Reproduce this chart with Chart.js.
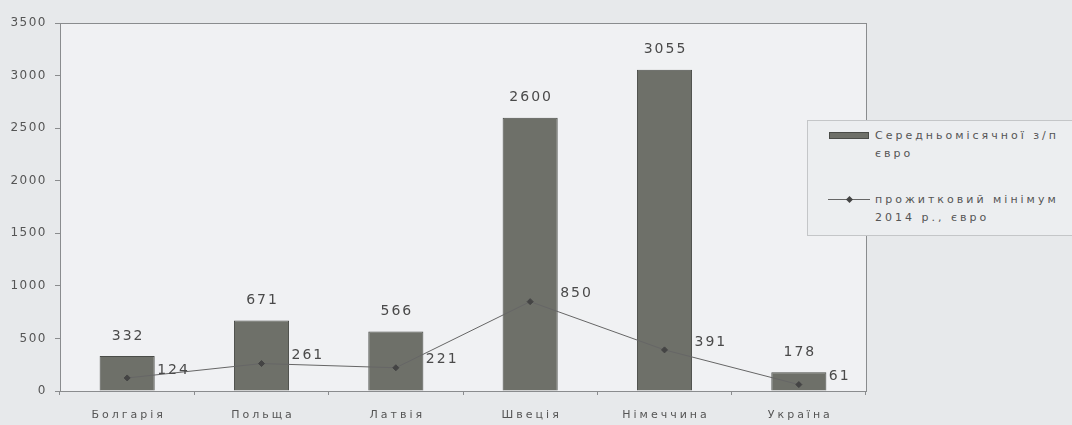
<!DOCTYPE html>
<html>
<head>
<meta charset="utf-8">
<script src="https://cdn.jsdelivr.net/npm/chart.js@4.4.0/dist/chart.umd.min.js"></script>
<style>
  body { margin: 0; background: #e7e9eb; font-family: "DejaVu Sans", sans-serif; }
  #wrap { position: relative; width: 1072px; height: 425px; }
  #legend {
    position: absolute; left: 807px; top: 120px; width: 270px; height: 114px;
    border: 1px solid #c4c6c8; background: #eceef0; color: #555; font-size: 11px; letter-spacing: 3px;
  }
  .item { position: absolute; left: 67px; line-height: 18px; white-space: nowrap; }
  .sw { position: absolute; }
</style>
</head>
<body>
<div id="wrap">
  <canvas id="myChart" width="1072" height="425"></canvas>
  <div id="legend">
    <div class="sw" style="left:21px;top:11px;width:38px;height:5px;background:#6e7069;border:1px solid #4a4c48;"></div>
    <div class="item" style="top:6px;">Середньомісячної з/п<br>євро</div>
    <div class="sw" style="left:20px;top:78px;width:42px;height:1px;background:#666;"></div>
    <div class="sw" style="left:39px;top:76px;width:5px;height:5px;background:#444;transform:rotate(45deg);"></div>
    <div class="item" style="top:70px;">прожитковий мінімум<br>2014 р., євро</div>
  </div>
</div>
<script>
// data
var countries = ['Болгарія', 'Польща', 'Латвія', 'Швеція', 'Німеччина', 'Україна'];
var avgSalary = [332, 671, 566, 2600, 3055, 178];
var minimum = [124, 261, 221, 850, 391, 61];
var yTicks = [0, 500, 1000, 1500, 2000, 2500, 3000, 3500];

var FONT = '"DejaVu Sans", sans-serif';

// plot background + border, spacing for tick text
var plotBox = {
  id: 'plotBox',
  beforeDraw: function(chart) {
    var a = chart.chartArea, ctx = chart.ctx;
    ctx.save();
    ctx.fillStyle = '#f0f1f3';
    ctx.fillRect(a.left, a.top, a.right - a.left, a.bottom - a.top);
    ctx.strokeStyle = '#8a8c8e';
    ctx.lineWidth = 1;
    ctx.strokeRect(a.left + 0.5, a.top + 0.5, a.right - a.left, a.bottom - a.top);
    ctx.restore();
    ctx.letterSpacing = '1.5px';
  }
};

// value labels + category labels
var valueLabels = {
  id: 'valueLabels',
  afterDatasetsDraw: function(chart) {
    var ctx = chart.ctx;
    ctx.save();
    ctx.font = '14px ' + FONT;
    ctx.letterSpacing = '2px';
    ctx.fillStyle = '#4a4a4a';
    ctx.textBaseline = 'middle';
    chart.getDatasetMeta(0).data.forEach(function(bar, i) {
      ctx.textAlign = 'center';
      ctx.fillText(avgSalary[i], bar.x + 1, bar.y - 20);
    });
    chart.getDatasetMeta(1).data.forEach(function(pt, i) {
      ctx.textAlign = 'left';
      ctx.fillText(minimum[i], pt.x + 30, pt.y - 8);
    });
    // x category labels
    var xs = chart.scales.x;
    ctx.font = '11px ' + FONT;
    ctx.letterSpacing = '3px';
    ctx.fillStyle = '#555';
    ctx.textAlign = 'center';
    countries.forEach(function(c, i) {
      ctx.fillText(c, xs.getPixelForTick(i) + 1.5, 415);
    });
    ctx.restore();
  }
};

var ctx = document.getElementById('myChart').getContext('2d');
window.myChart = new Chart(ctx, {
  data: {
    labels: countries,
    datasets: [{
      type: 'bar',
      label: 'Середньомісячної з/п євро',
      data: avgSalary,
      backgroundColor: '#6e7069',
      borderColor: '#4a4c48',
      borderWidth: 1,
      categoryPercentage: 0.82,
      barPercentage: 0.5,
      order: 2
    }, {
      type: 'line',
      label: 'прожитковий мінімум 2014 р., євро',
      data: minimum,
      borderColor: '#666',
      borderWidth: 1,
      pointStyle: 'rectRot',
      pointRadius: 3,
      pointBackgroundColor: '#444',
      pointBorderColor: '#444',
      order: 1
    }]
  },
  options: {
    responsive: false,
    animation: false,
    layout: { padding: { top: 23, right: 206, left: 0, bottom: 0 } },
    plugins: { legend: { display: false }, tooltip: { enabled: false } },
    scales: {
      x: {
        grid: { display: true, drawOnChartArea: false, tickLength: 4, color: '#8a8c8e' },
        border: { color: '#8a8c8e' },
        ticks: { display: false },
        afterFit: function(s) { s.height = 34; }
      },
      y: {
        min: 0, max: 3500,
        afterBuildTicks: function(s) { s.ticks = yTicks.map(function(v) { return { value: v }; }); },
        grid: { display: true, drawOnChartArea: false, tickLength: 5, color: '#8a8c8e' },
        border: { color: '#8a8c8e' },
        ticks: {
          color: '#555', padding: 8,
          font: { size: 12, family: FONT },
          callback: function(v) { return String(v); }
        },
        afterFit: function(s) { s.width = 60; }
      }
    }
  },
  plugins: [plotBox, valueLabels]
});
</script>
</body>
</html>
